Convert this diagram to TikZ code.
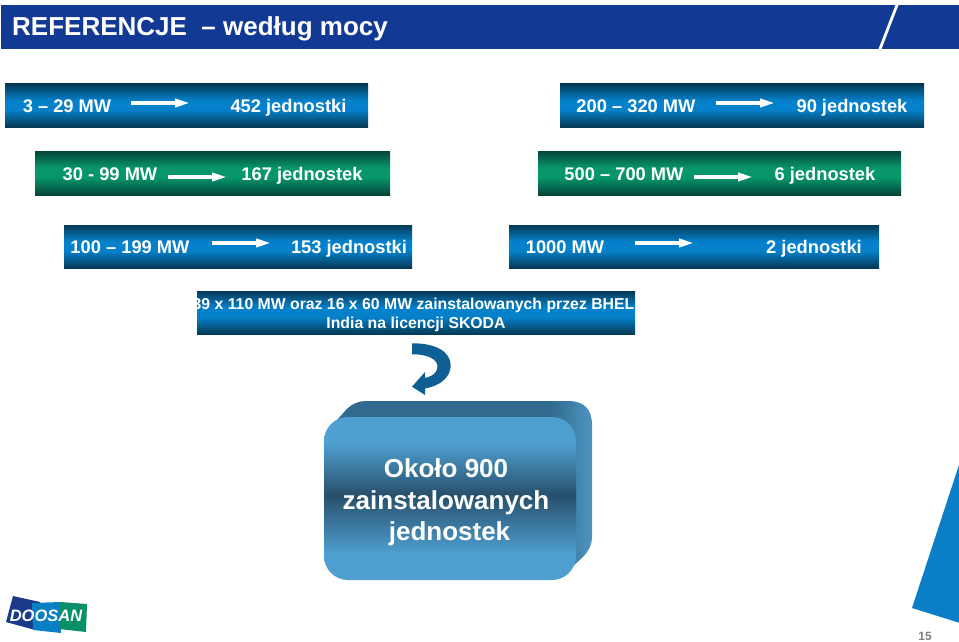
\documentclass[tikz,border=0pt]{standalone}
\usepackage{fontspec}
\setmainfont{Liberation Sans}
\usetikzlibrary{arrows.meta}
\definecolor{titleblue}{HTML}{123A94}
\definecolor{bardark}{HTML}{053A56}
\definecolor{barblue}{HTML}{0580CA}
\definecolor{greendark}{HTML}{06443A}
\definecolor{bargreen}{HTML}{07966A}
\definecolor{boxlight}{HTML}{4F9FD0}
\definecolor{boxdark}{HTML}{27506C}
\definecolor{boxback}{HTML}{4A90BB}
\definecolor{boxtop}{HTML}{306A8E}
\definecolor{curveblue}{HTML}{0F5F95}
\definecolor{logodark}{HTML}{1B3A8C}
\definecolor{logoblue}{HTML}{0A80C4}
\definecolor{logogreen}{HTML}{0A8F68}
\definecolor{cornerblue}{HTML}{0A7FC8}
\pgfdeclareverticalshading{bluebarshade}{100bp}{color(0bp)=(bardark); color(25bp)=(bardark); color(45bp)=(barblue); color(56bp)=(barblue); color(75bp)=(bardark); color(100bp)=(bardark)}
\pgfdeclareverticalshading{greenbarshade}{100bp}{color(0bp)=(greendark); color(25bp)=(greendark); color(45bp)=(bargreen); color(56bp)=(bargreen); color(75bp)=(greendark); color(100bp)=(greendark)}
\pgfdeclareverticalshading{frontshade}{100bp}{color(0bp)=(boxlight); color(33bp)=(boxlight); color(51bp)=(boxdark); color(67bp)=(boxlight); color(100bp)=(boxlight)}
\pgfdeclarehorizontalshading{backshade}{100bp}{color(0bp)=(boxtop); color(67bp)=(boxtop); color(74bp)=(boxback); color(100bp)=(boxback)}
\tikzset{
  bluebar/.style={rectangle, inner sep=0, shading=bluebarshade},
  greenbar/.style={rectangle, inner sep=0, shading=greenbarshade},
  bartext/.style={anchor=base, inner sep=0, white, font=\fontsize{18.3}{18.3}\selectfont\bfseries},
  bheltext/.style={anchor=base, inner sep=0, white, font=\fontsize{15.8}{15.8}\selectfont\bfseries},
  boxtext/.style={anchor=base, inner sep=0, white, font=\fontsize{26}{26}\selectfont\bfseries},
  barrow/.style={white, line width=3.5pt, -{Triangle[length=15pt, width=8pt]}},
}
\begin{document}
\begin{tikzpicture}[x=1pt, y=-1pt]
\useasboundingbox (0,0) rectangle (959,642);
\node[rectangle, inner sep=0, fill=titleblue, minimum width=958pt, minimum height=44pt] (titlebar) at (480,27){};
\fill[white] (895.5,5) -- (898.5,5) -- (881.5,49) -- (878.5,49) -- cycle;
\node[anchor=base west, inner sep=0, white, font=\fontsize{26}{26}\selectfont\bfseries] (titletext) at (12,36){REFERENCJE\ \ – według mocy};

\node[bluebar, minimum width=363pt, minimum height=43pt] (bar0) at (186.5,105.5){};
\node[bartext] (low0) at (67,112.5){3 – 29 MW};
\node[bartext] (num0) at (288.5,112.5){452 jednostki};
\coordinate (from0) at (131,103);
\coordinate (to0) at (190,103);
\draw[barrow] (from0) -- (to0);

\node[bluebar, minimum width=364pt, minimum height=43pt] (bar1) at (742,105.5){};
\node[bartext] (low1) at (636,112.5){200 – 320 MW};
\node[bartext] (num1) at (852,112.5){90 jednostek};
\coordinate (from1) at (716,103);
\coordinate (to1) at (775,103);
\draw[barrow] (from1) -- (to1);

\node[greenbar, minimum width=355pt, minimum height=44pt] (bar2) at (212.5,173){};
\node[bartext] (low2) at (110,180){30 - 99 MW};
\node[bartext] (num2) at (302,180){167 jednostek};
\coordinate (from2) at (168,177);
\coordinate (to2) at (227,177);
\draw[barrow] (from2) -- (to2);

\node[greenbar, minimum width=363pt, minimum height=44pt] (bar3) at (719.5,173){};
\node[bartext] (low3) at (624,180){500 – 700 MW};
\node[bartext] (num3) at (825,180){6 jednostek};
\coordinate (from3) at (694,177);
\coordinate (to3) at (753,177);
\draw[barrow] (from3) -- (to3);

\node[bluebar, minimum width=348pt, minimum height=43pt] (bar4) at (238,246.5){};
\node[bartext] (low4) at (130,253){100 – 199 MW};
\node[bartext] (num4) at (349,253){153 jednostki};
\coordinate (from4) at (212,243);
\coordinate (to4) at (271,243);
\draw[barrow] (from4) -- (to4);

\node[bluebar, minimum width=370pt, minimum height=43pt] (bar5) at (694,246.5){};
\node[bartext] (low5) at (565,253){1000 MW};
\node[bartext] (num5) at (814,253){2 jednostki};
\coordinate (from5) at (635,243);
\coordinate (to5) at (694,243);
\draw[barrow] (from5) -- (to5);

\node[bluebar, minimum width=438pt, minimum height=43pt] (bar6) at (416,312.5){};
\node[bheltext] (bhel0) at (413.5,309.5){39 x 110 MW oraz 16 x 60 MW zainstalowanych przez BHEL};
\node[bheltext] (bhel1) at (416,328.5){India na licencji SKODA};

\fill[curveblue] (412,343.3) .. controls (436,343) and (451,352) .. (450.7,366)
  .. controls (450.5,377) and (440,386) .. (425,388.5) -- (425,395) -- (412,386.7) -- (425,372) -- (425,378)
  .. controls (434,376) and (438,371) .. (437.5,366) .. controls (437,359) and (427,354) .. (412,354.3) -- cycle;

\path[shading=backshade] (330,428) -- (345,411) .. controls (352,403) and (360,401) .. (366,401) -- (568,401)
  .. controls (584,401) and (592,409) .. (592,425) -- (592,538) .. controls (592,545) and (588,552) .. (582,558)
  -- (560,578) -- (556,428) -- cycle;
\node[rectangle, rounded corners=24pt, inner sep=0, shading=frontshade, minimum width=252pt, minimum height=163pt] (frontbox) at (450,498.5){};
\node[boxtext] (box0) at (446,477.5){Około 900};
\node[boxtext] (box1) at (446,509){zainstalowanych};
\node[boxtext] (box2) at (449.5,540){jednostek};

\fill[logodark] (13,596) -- (40,602) -- (35,630) -- (6,622) -- cycle;
\fill[logoblue] (32,603) -- (60,602) -- (61,633) -- (33,630) -- cycle;
\fill[logogreen] (60,602) -- (87,604) -- (86,632) -- (59,629) -- cycle;
\node[inner sep=0, white, font=\fontsize{16.5}{16.5}\selectfont\bfseries\itshape] (logotext) at (46,616){DOOSAN};

\fill[cornerblue] (912,608) -- (959,465) -- (959,622.7) -- cycle;
\node[inner sep=0, gray, font=\fontsize{12}{12}\selectfont\bfseries] (pagenum) at (925,636.5){15};
\end{tikzpicture}
\end{document}
